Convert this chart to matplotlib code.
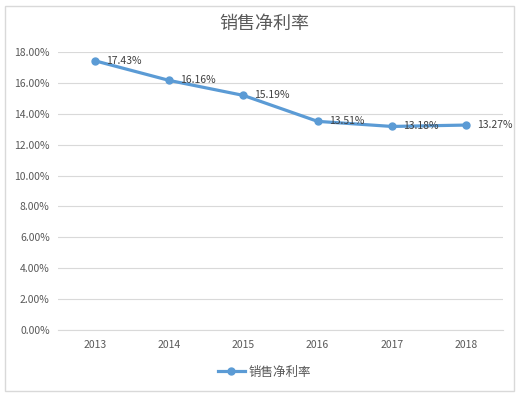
import matplotlib.pyplot as plt
from matplotlib.patches import Rectangle
from matplotlib.ticker import FuncFormatter

plt.rcParams['font.family'] = ['Noto Sans CJK SC', 'DejaVu Sans']

years = ['2013', '2014', '2015', '2016', '2017', '2018']
margin = [17.43, 16.16, 15.19, 13.51, 13.18, 13.27]
series_name = '销售净利率'
title = '销售净利率'

fig = plt.figure(figsize=(5.29, 3.98), dpi=100)
ax = fig.add_axes([0.1096, 0.1709, 0.8414, 0.6984])

# outer chart border
fig.patches.append(Rectangle((5 / 529, 1 - 391 / 398), 509 / 529, 385 / 398,
                             transform=fig.transFigure, fill=False,
                             edgecolor='#d9d9d9', linewidth=1))

x = list(range(len(years)))
ax.plot(x, margin, color='#5b9bd5', linewidth=2.3, marker='o', markersize=5,
        label=series_name)
for xi, v in zip(x, margin):
    ax.annotate('{:.2f}%'.format(v), (xi, v), xytext=(8, 0), textcoords='offset points',
                ha='left', va='center', fontsize=7.5, color='#404040')

ax.set_xlim(-0.5, len(years) - 0.5)
ax.set_ylim(0, 18)
ax.set_yticks([0, 2, 4, 6, 8, 10, 12, 14, 16, 18])
ax.yaxis.set_major_formatter(FuncFormatter(lambda v, p: '{:.2f}%'.format(v)))
ax.set_xticks(x)
ax.set_xticklabels(years)
ax.tick_params(axis='both', length=0, labelsize=7.5, colors='#595959')
ax.tick_params(axis='y', pad=6)
ax.tick_params(axis='x', pad=7)
ax.grid(axis='y', color='#d9d9d9', linewidth=0.8)
ax.set_axisbelow(True)
for s in ['top', 'right', 'left']:
    ax.spines[s].set_visible(False)
ax.spines['bottom'].set_color('#d9d9d9')

fig.text(0.5, 1 - 24 / 398, title, ha='center', va='center', fontsize=13, color='#595959')

fig.legend(loc='center', bbox_to_anchor=(0.5, 1 - 372 / 398), frameon=False,
           fontsize=9, labelcolor='#595959', handlelength=2.2, handletextpad=0.3)

fig.savefig('out.png', dpi=100)
